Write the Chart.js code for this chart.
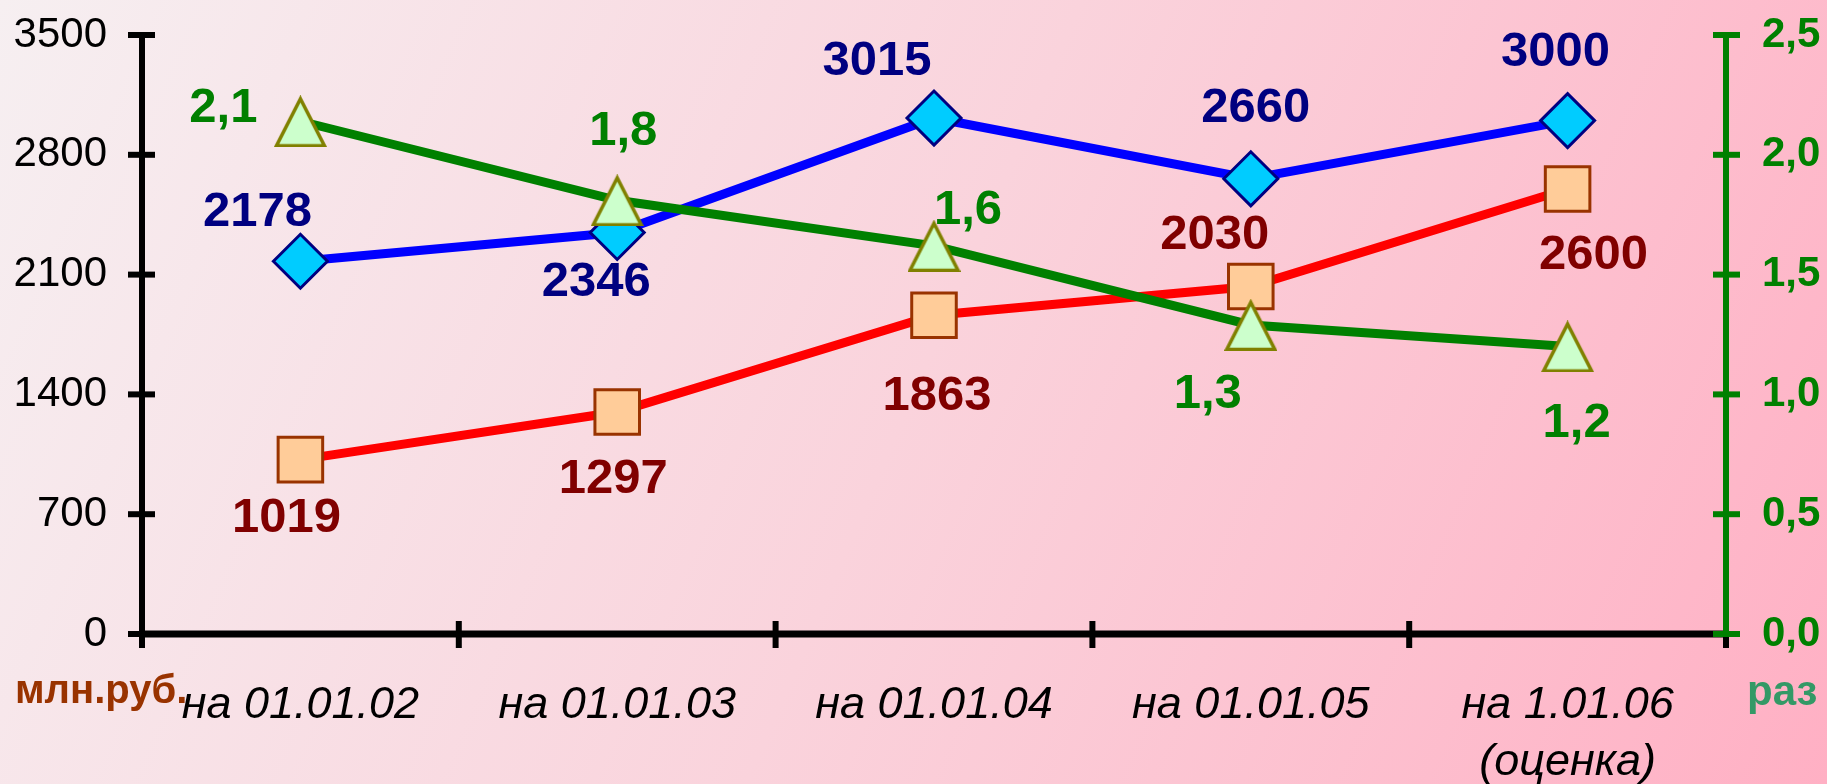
<!DOCTYPE html>
<html>
<head>
<meta charset="utf-8">
<script src="https://cdn.jsdelivr.net/npm/chart.js@4.4.1/dist/chart.umd.min.js"></script>
<style>
html, body { margin: 0; padding: 0; }
#wrap { width: 1827px; height: 784px; position: relative; }
</style>
</head>
<body>
<div id="wrap"><canvas id="c"></canvas></div>
<script>
// ---- data ----
const categories = ['на 01.01.02', 'на 01.01.03', 'на 01.01.04', 'на 01.01.05', ['на 1.01.06', '(оценка)']];
const seriesBlue = [2178, 2346, 3015, 2660, 3000];
const seriesRed = [1019, 1297, 1863, 2030, 2600];
const seriesGreen = [2.14, 1.81, 1.62, 1.29, 1.20];
const blueLabels = ['2178', '2346', '3015', '2660', '3000'];
const redLabels = ['1019', '1297', '1863', '2030', '2600'];
const greenLabels = ['2,1', '1,8', '1,6', '1,3', '1,2'];
const leftTickLabels = ['0', '700', '1400', '2100', '2800', '3500'];
const rightTickLabels = ['0,0', '0,5', '1,0', '1,5', '2,0', '2,5'];
const leftUnit = 'млн.руб.';
const rightUnit = 'раз';

const FONT = "'Liberation Sans', Arial, sans-serif";

function makeTriangle(w, h, fill, stroke, lw) {
  const c = document.createElement('canvas');
  c.width = w; c.height = h;
  const g = c.getContext('2d');
  g.beginPath();
  g.moveTo(w / 2, 3.5);
  g.lineTo(w - 2.5, h - 1.5);
  g.lineTo(2.5, h - 1.5);
  g.closePath();
  g.fillStyle = fill; g.fill();
  g.lineWidth = lw; g.strokeStyle = stroke; g.lineJoin = 'miter';
  g.stroke();
  return c;
}
const triangleImg = makeTriangle(53, 52, '#ccffcc', '#808000', 3.5);

const bgPlugin = {
  id: 'bg',
  beforeDraw(chart) {
    const { ctx, width, height } = chart;
    const g = ctx.createLinearGradient(0, 0, width, height);
    g.addColorStop(0, '#f6eff1');
    g.addColorStop(0.5, '#fad3dc');
    g.addColorStop(1, '#ffb0c4');
    ctx.save();
    ctx.fillStyle = g;
    ctx.fillRect(0, 0, width, height);
    ctx.restore();
  }
};

function seg(ctx, x1, y1, x2, y2) {
  ctx.beginPath(); ctx.moveTo(x1, y1); ctx.lineTo(x2, y2); ctx.stroke();
}

const axesPlugin = {
  id: 'axesDraw',
  beforeDatasetsDraw(chart) {
    const { ctx, chartArea: a, scales } = chart;
    const x = scales.x, y = scales.y, y1 = scales.y1;
    const base = y.getPixelForValue(0);
    ctx.save();
    ctx.lineCap = 'butt';
    // x axis
    ctx.strokeStyle = '#000';
    ctx.lineWidth = 7;
    seg(ctx, a.left, base, a.right, base);
    ctx.lineWidth = 6;
    const n = chart.data.labels.length;
    for (let i = 0; i <= n; i++) {
      let px;
      if (i === 0) px = a.left;
      else if (i === n) px = a.right;
      else px = (x.getPixelForValue(i - 1) + x.getPixelForValue(i)) / 2;
      seg(ctx, px, base - 13, px, base + 14);
    }
    // left axis
    ctx.lineWidth = 6;
    seg(ctx, a.left, y.getPixelForValue(3500) - 3, a.left, base);
    y.ticks.forEach(t => {
      const py = y.getPixelForValue(t.value);
      seg(ctx, a.left - 14, py, a.left + 13, py);
    });
    // right axis
    ctx.strokeStyle = '#008000';
    seg(ctx, a.right, y1.getPixelForValue(2.5) - 3, a.right, base);
    y1.ticks.forEach(t => {
      const py = y1.getPixelForValue(t.value);
      seg(ctx, a.right - 13, py, a.right + 14, py);
    });
    ctx.restore();
  }
};

const labelsPlugin = {
  id: 'valueLabels',
  afterDatasetsDraw(chart, args, opts) {
    const { ctx } = chart;
    ctx.save();
    ctx.font = 'bold 49px ' + FONT;
    ctx.textAlign = 'center';
    ctx.textBaseline = 'middle';
    chart.data.datasets.forEach((ds, di) => {
      const meta = chart.getDatasetMeta(di);
      const cfg = opts.sets[ds.key];
      meta.data.forEach((pt, i) => {
        ctx.fillStyle = cfg.color;
        ctx.fillText(cfg.texts[i], pt.x + cfg.offsets[i][0], pt.y + cfg.offsets[i][1]);
      });
    });
    ctx.restore();
  },
  afterDraw(chart) {
    const { ctx, chartArea: a } = chart;
    ctx.save();
    ctx.textBaseline = 'alphabetic';
    ctx.textAlign = 'left';
    ctx.font = 'bold 40px ' + FONT;
    ctx.fillStyle = '#993300';
    ctx.fillText(leftUnit, 15, a.bottom + 69);
    ctx.font = 'bold 42px ' + FONT;
    ctx.fillStyle = '#339966';
    ctx.fillText(rightUnit, a.right + 21, a.bottom + 71);
    ctx.restore();
  }
};

function fixVertical(width) {
  return function (s) {
    s.width = width;
    s.paddingTop = 0;
    s.paddingBottom = 0;
  };
}

new Chart(document.getElementById('c'), {
  type: 'line',
  data: {
    labels: categories,
    datasets: [
      {
        key: 'green', data: seriesGreen, yAxisID: 'y1', order: 1,
        borderColor: '#008000', borderWidth: 9,
        pointStyle: triangleImg, pointRadius: 26,
        tension: 0, fill: false
      },
      {
        key: 'red', data: seriesRed, yAxisID: 'y', order: 2,
        borderColor: '#ff0000', borderWidth: 9,
        pointStyle: 'rect', pointRadius: 31.5, pointBorderWidth: 3,
        pointBackgroundColor: '#ffcc99', pointBorderColor: '#993300',
        tension: 0, fill: false
      },
      {
        key: 'blue', data: seriesBlue, yAxisID: 'y', order: 3,
        borderColor: '#0000ff', borderWidth: 9,
        pointStyle: 'rectRot', pointRadius: 27, pointBorderWidth: 3,
        pointBackgroundColor: '#00ccff', pointBorderColor: '#000080',
        tension: 0, fill: false
      }
    ]
  },
  options: {
    responsive: true,
    maintainAspectRatio: false,
    animation: false,
    events: [],
    layout: { padding: { top: 28, left: 0, right: 0, bottom: 0 } },
    plugins: {
      legend: { display: false },
      tooltip: { enabled: false },
      valueLabels: {
        sets: {
          blue: { color: '#000080', texts: blueLabels,
            offsets: [[-43, -49], [-21, 50], [-57, -57], [5, -70], [-12, -68]] },
          red: { color: '#800000', texts: redLabels,
            offsets: [[-14, 59], [-4, 67], [3, 81], [-36, -51], [26, 66]] },
          green: { color: '#008000', texts: greenLabels,
            offsets: [[-77, -13], [6, -69], [34, -35], [-43, 70], [9, 77]] }
        }
      }
    },
    scales: {
      x: {
        type: 'category',
        offset: true,
        grid: { display: false, drawTicks: false },
        border: { display: false },
        ticks: {
          color: '#000', padding: 43, maxRotation: 0, autoSkip: false,
          font: { family: FONT, size: 45, style: 'italic', lineHeight: 1.27 }
        },
        afterFit(s) { s.height = 150; }
      },
      y: {
        position: 'left', min: 0, max: 3500,
        grid: { display: false, drawTicks: false },
        border: { display: false },
        ticks: {
          stepSize: 700, color: '#000', padding: 35,
          font: { family: FONT, size: 42 },
          callback: (v, i) => leftTickLabels[i]
        },
        afterFit: fixVertical(142)
      },
      y1: {
        position: 'right', min: 0, max: 2.5,
        grid: { display: false, drawTicks: false },
        border: { display: false },
        ticks: {
          stepSize: 0.5, color: '#008000', padding: 36,
          font: { family: FONT, size: 42, weight: 'bold' },
          callback: (v, i) => rightTickLabels[i]
        },
        afterFit: fixVertical(101)
      }
    }
  },
  plugins: [bgPlugin, axesPlugin, labelsPlugin]
});
</script>
</body>
</html>
